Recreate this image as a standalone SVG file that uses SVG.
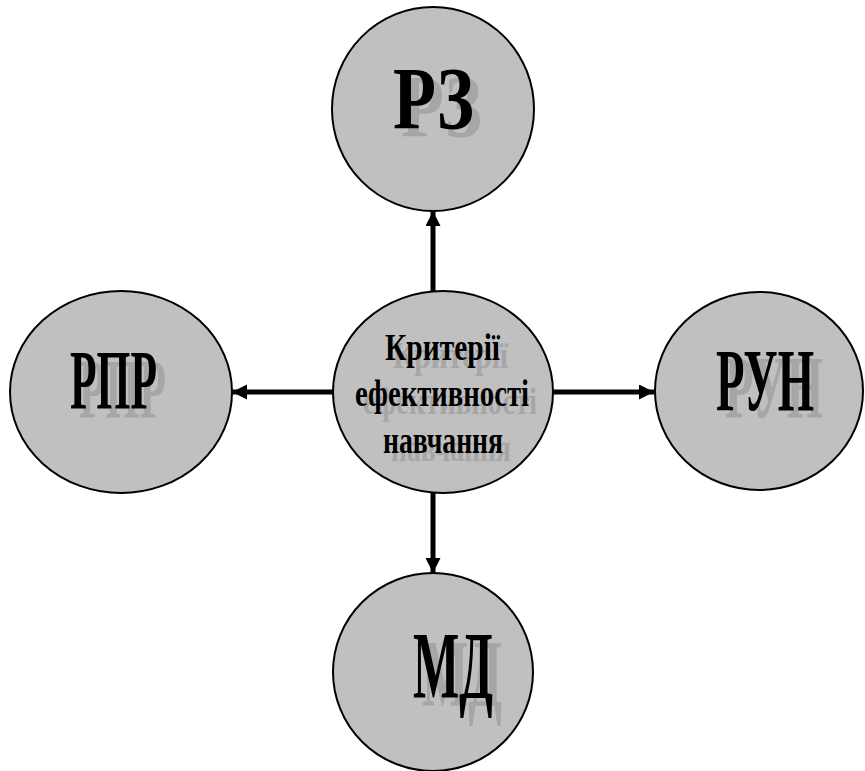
<svg xmlns="http://www.w3.org/2000/svg" width="865" height="771" viewBox="0 0 865 771">
<style>
.node ellipse{fill:#c0c0c0;stroke:#000;stroke-width:2}
.t{font-family:"Liberation Serif","Times New Roman",serif;font-weight:bold;fill:#000}
.s{font-family:"Liberation Serif","Times New Roman",serif;font-weight:bold;fill:#a6a6a6}
.conn line{stroke:#000;stroke-width:5}
</style>
<defs>
<marker id="ah" markerUnits="userSpaceOnUse" markerWidth="16" markerHeight="16" refX="15" refY="7.5" orient="auto" viewBox="0 0 16 16">
<path d="M0,0 L15,7.5 L0,15 z" fill="#000"/>
</marker>
</defs>
<rect width="865" height="771" fill="#fff"/>
<g id="conn" class="conn">
<line x1="433" y1="292" x2="433" y2="211" marker-end="url(#ah)"/>
<line x1="433" y1="492" x2="433" y2="573" marker-end="url(#ah)"/>
<line x1="334" y1="392" x2="232" y2="392" marker-end="url(#ah)"/>
<line x1="552" y1="392" x2="654" y2="392" marker-end="url(#ah)"/>
</g>
<g id="rz" class="node">
<ellipse cx="433" cy="109" rx="101" ry="102"/>
<text class="s" x="401" y="136" font-size="88" textLength="81" lengthAdjust="spacingAndGlyphs">РЗ</text>
<text class="t" x="393" y="128" font-size="88" textLength="81" lengthAdjust="spacingAndGlyphs">РЗ</text>
</g>
<g id="rpr" class="node">
<ellipse cx="121" cy="392" rx="111" ry="101"/>
<text class="s" x="79" y="418" font-size="85" textLength="87" lengthAdjust="spacingAndGlyphs">РПР</text>
<text class="t" x="70" y="409" font-size="85" textLength="87" lengthAdjust="spacingAndGlyphs">РПР</text>
</g>
<g id="run" class="node">
<ellipse cx="759" cy="391" rx="104" ry="99"/>
<text class="s" x="725" y="417" font-size="88" textLength="98" lengthAdjust="spacingAndGlyphs">РУН</text>
<text class="t" x="716" y="410" font-size="88" textLength="98" lengthAdjust="spacingAndGlyphs">РУН</text>
</g>
<g id="md" class="node">
<ellipse cx="433" cy="672" rx="100" ry="99"/>
<text class="s" x="422" y="706" font-size="95" textLength="80" lengthAdjust="spacingAndGlyphs">МД</text>
<text class="t" x="413" y="698" font-size="95" textLength="80" lengthAdjust="spacingAndGlyphs">МД</text>
</g>
<g id="center" class="node">
<ellipse cx="443" cy="392" rx="110" ry="101"/>
<text class="s" x="393" y="368" font-size="38" textLength="115" lengthAdjust="spacingAndGlyphs">Критерії</text>
<text class="s" x="363" y="414" font-size="38" textLength="174" lengthAdjust="spacingAndGlyphs">ефективності</text>
<text class="s" x="391" y="461" font-size="38" textLength="120" lengthAdjust="spacingAndGlyphs">навчання</text>
<text class="t" x="385" y="360" font-size="38" textLength="115" lengthAdjust="spacingAndGlyphs">Критерії</text>
<text class="t" x="355" y="406" font-size="38" textLength="174" lengthAdjust="spacingAndGlyphs">ефективності</text>
<text class="t" x="383" y="453" font-size="38" textLength="120" lengthAdjust="spacingAndGlyphs">навчання</text>
</g>
</svg>
